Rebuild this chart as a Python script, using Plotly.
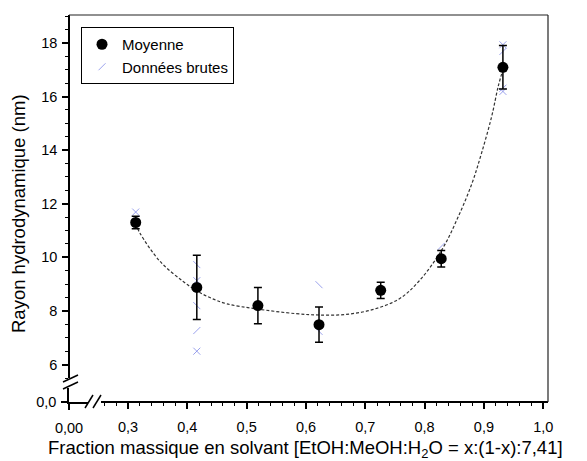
import plotly.graph_objects as go

# ---------------- data ----------------
x_mean = [0.313, 0.416, 0.519, 0.622, 0.726, 0.828, 0.932]
y_mean = [11.30, 8.88, 8.20, 7.49, 8.77, 9.95, 17.09]
y_err = [0.23, 1.20, 0.68, 0.66, 0.30, 0.31, 0.81]

raw_cross_x = [0.313, 0.416, 0.416, 0.932, 0.932]
raw_cross_y = [11.69, 9.13, 6.50, 17.93, 16.19]
raw_slash_x = [0.416, 0.416, 0.416, 0.622, 0.622, 0.828, 0.932, 0.932]
raw_slash_y = [7.27, 9.73, 8.20, 8.98, 7.24, 10.41, 17.68, 16.31]

fit_x = [0.313, 0.320, 0.354, 0.393, 0.416, 0.438, 0.466, 0.516, 0.583, 0.622,
         0.667, 0.712, 0.757, 0.790, 0.829, 0.857, 0.880, 0.896, 0.913, 0.924, 0.932]
fit_y = [11.25, 10.91, 9.85, 9.10, 8.75, 8.50, 8.27, 8.08, 7.90, 7.85,
         7.87, 8.05, 8.45, 9.10, 10.28, 11.53, 12.77, 13.89, 15.25, 16.37, 17.00]

x_title = "Fraction massique en solvant [EtOH:MeOH:H<sub>2</sub>O = x:(1-x):7,41]"
y_title = "Rayon hydrodynamique (nm)"

# ---------------- layout geometry (screen pixels of the 587x461 window) ----------------
OFF = 8                      # default body margin of the html page
W, H = 587 - OFF, 461 - OFF
PLOT_L, PLOT_R, PLOT_T, PLOT_B = 69, 548, 15, 402   # plot area on screen
L = PLOT_L - OFF
T = PLOT_T - OFF
R = W - (PLOT_R - OFF)
B = H - (PLOT_B - OFF)
PW, PH = PLOT_R - PLOT_L, PLOT_B - PLOT_T


def px(xp):
    return (xp - PLOT_L) / PW


def py(yp):
    return (PLOT_B - yp) / PH


FONT = "Liberation Sans, Arial, sans-serif"
raw_color = "rgba(120,130,230,0.75)"

fig = go.Figure()

# invisible trace to create the small (broken) corner subplot
fig.add_trace(go.Scatter(x=[None], y=[None], xaxis="x", yaxis="y",
                         showlegend=False, hoverinfo="skip"))

fig.add_trace(go.Scatter(
    x=fit_x, y=fit_y, mode="lines", xaxis="x2", yaxis="y2",
    line=dict(color="#333333", width=1.2, dash="3px,2px", shape="spline"),
    showlegend=False, hoverinfo="skip"))

fig.add_trace(go.Scatter(
    x=raw_cross_x, y=raw_cross_y, mode="markers", xaxis="x2", yaxis="y2",
    marker=dict(symbol="x-thin", size=7, color=raw_color,
                line=dict(color=raw_color, width=1)),
    showlegend=False))

slash_symbols = ["line-ne", "line-nw", "line-nw", "line-nw", "line-nw",
                 "line-ne", "line-ne", "line-ne"]
fig.add_trace(go.Scatter(
    x=raw_slash_x, y=raw_slash_y, mode="markers", xaxis="x2", yaxis="y2",
    name="Données brutes", legendrank=2,
    marker=dict(symbol=slash_symbols, size=7, color=raw_color,
                line=dict(color=raw_color, width=1))))

fig.add_trace(go.Scatter(
    x=x_mean, y=y_mean, mode="markers", xaxis="x2", yaxis="y2",
    name="Moyenne", legendrank=1,
    marker=dict(symbol="circle", size=11, color="black"),
    error_y=dict(type="data", array=y_err, visible=True, color="black",
                 thickness=1.5, width=4)))

axis_common = dict(showgrid=False, zeroline=False, showline=True,
                   linecolor="black", linewidth=1.5, ticks="outside",
                   ticklen=6, tickwidth=1.5, tickcolor="black", automargin=False,
                   tickfont=dict(family=FONT, size=14.5, color="black"))

main_x0 = px(101)
main_y0 = py(378)

fig.update_layout(
    width=W, height=H,
    margin=dict(l=L, r=R, t=T, b=B, pad=0),
    paper_bgcolor="white", plot_bgcolor="white",
    separators=", ",
    font=dict(family=FONT, color="black"),
    xaxis=dict(domain=[0, px(88)], range=[0, 0.03], tickvals=[0],
               tickformat=".2f", anchor="y", ticklabeloverflow="allow",
               ticklabelstandoff=6, **axis_common),
    yaxis=dict(domain=[0, py(388)], range=[0, 0.5], tickvals=[0],
               tickformat=".1f", anchor="x", ticklabeloverflow="allow",
               ticklabelstandoff=2, **axis_common),
    xaxis2=dict(domain=[main_x0, 1], range=[0.2545, 1.008], anchor="free",
                position=0, tick0=0, dtick=0.1, tickformat=".1f",
                ticklabelstandoff=6,
                minor=dict(ticks="outside", ticklen=3, tick0=0, dtick=0.02,
                           tickcolor="black", tickwidth=1),
                **axis_common),
    yaxis2=dict(domain=[main_y0, 1], range=[5.5, 19.04], anchor="free",
                position=0, tick0=0, dtick=2, ticklabelstandoff=2,
                minor=dict(ticks="outside", ticklen=3, tick0=0, dtick=0.5,
                           tickcolor="black", tickwidth=1),
                **axis_common),
    legend=dict(x=px(81), y=py(27), xanchor="left", yanchor="top",
                bordercolor="black", borderwidth=1, bgcolor="white",
                font=dict(family=FONT, size=15, color="black"),
                tracegroupgap=0),
    annotations=[
        dict(text=x_title, xref="paper", yref="paper", x=px(305), y=py(449),
             xanchor="center", yanchor="middle", showarrow=False,
             font=dict(family=FONT, size=18.5, color="black")),
        dict(text=y_title, xref="paper", yref="paper", x=px(18), y=py(214),
             xanchor="center", yanchor="middle", showarrow=False, textangle=-90,
             font=dict(family=FONT, size=18.5, color="black")),
    ],
    shapes=[
        # top and right frame
        dict(type="line", xref="paper", yref="paper", x0=0, x1=1, y0=1, y1=1,
             line=dict(color="#222222", width=1.2)),
        dict(type="line", xref="paper", yref="paper", x0=1, x1=1, y0=0, y1=1,
             line=dict(color="#222222", width=1.2)),
        # x-axis break marks
        dict(type="line", xref="paper", yref="paper", x0=px(85), y0=py(408),
             x1=px(93), y1=py(395), line=dict(color="black", width=1.5)),
        dict(type="line", xref="paper", yref="paper", x0=px(93), y0=py(408),
             x1=px(101), y1=py(395), line=dict(color="black", width=1.5)),
        # y-axis break marks
        dict(type="line", xref="paper", yref="paper", x0=px(63), y0=py(382),
             x1=px(78), y1=py(375), line=dict(color="black", width=1.5)),
        dict(type="line", xref="paper", yref="paper", x0=px(63), y0=py(389),
             x1=px(78), y1=py(382), line=dict(color="black", width=1.5)),
    ],
)

fig.write_html("out.html")
